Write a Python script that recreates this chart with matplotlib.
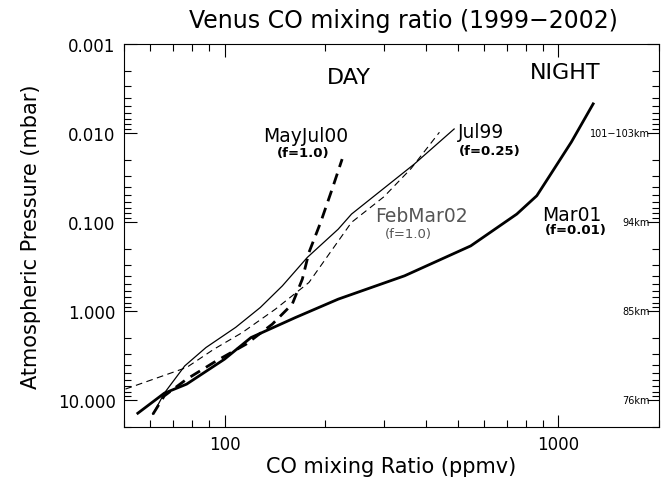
import numpy as np
import matplotlib
matplotlib.use('Agg')
import matplotlib.pyplot as plt
from matplotlib.ticker import FixedLocator, NullFormatter, LogLocator
import matplotlib.transforms as mtransforms

# CO mixing ratio (ppmv) vs pressure (mbar)
mar01_co = [55, 66, 77, 100, 120, 163, 219, 346, 546, 750, 861, 940, 1093, 1270]
mar01_p = [14.0, 8.35, 6.6, 3.46, 1.98, 1.18, 0.733, 0.401, 0.185, 0.0813, 0.0506, 0.0304, 0.0126, 0.0047]

jul99_co = [61, 66, 76, 88, 108, 128, 149, 177, 219, 240, 370, 487]
jul99_p = [14.4, 8.35, 4.12, 2.56, 1.52, 0.909, 0.52, 0.249, 0.12, 0.0813, 0.0223, 0.009]

febmar02_co = [50.5, 77, 93, 113, 142, 179, 240, 300, 362, 440]
febmar02_p = [7.5, 4.29, 2.67, 1.74, 0.95, 0.476, 0.1007, 0.052, 0.025, 0.0098]

mayjul00_co = [61, 66, 77, 94.5, 116, 139, 159.5, 171, 179, 194, 210, 225]
mayjul00_p = [14.4, 8.95, 5.81, 3.62, 2.35, 1.40, 0.834, 0.437, 0.219, 0.1007, 0.0426, 0.0196]

p_ticks = [0.001, 0.01, 0.1, 1, 10]
p_labels = ['0.001', '0.010', '0.100', '1.000', '10.000']
alt_ticks = [0.01, 0.1, 1, 10]
alt_labels = ['101\u2212103km', '94km', '85km', '76km']

fig = plt.figure(figsize=(6.62, 4.85), dpi=100)
ax = fig.add_axes([0.1873, 0.1175, 0.8082, 0.7897])

ax.plot(mar01_co, mar01_p, color='black', lw=2.0)
ax.plot(jul99_co, jul99_p, color='black', lw=0.9)
ax.plot(febmar02_co, febmar02_p, color='black', lw=0.8, dashes=(6, 4))
ax.plot(mayjul00_co, mayjul00_p, color='black', lw=2.0, dashes=(4, 2.5))

ax.set_xscale('log')
ax.set_yscale('log')
ax.set_xlim(50, 2000)
ax.set_ylim(20, 0.001)

ax.set_xticks([100, 1000])
ax.set_xticklabels(['100', '1000'])
ax.xaxis.set_minor_locator(LogLocator(base=10, subs=np.arange(2, 10)))
ax.xaxis.set_minor_formatter(NullFormatter())
ax.yaxis.set_major_locator(FixedLocator(p_ticks))
ax.set_yticklabels(p_labels)
ax.yaxis.set_minor_locator(LogLocator(base=10, subs=np.arange(2, 10)))
ax.yaxis.set_minor_formatter(NullFormatter())

ax.tick_params(which='both', direction='in', top=True, right=True, labelsize=12, width=0.8)
ax.tick_params(which='major', length=9, pad=6)
ax.tick_params(which='minor', length=5)
for s in ax.spines.values():
    s.set_linewidth(0.8)

# altitude labels inside right edge
trans = mtransforms.blended_transform_factory(ax.transAxes, ax.transData)
for p, lab in zip(alt_ticks, alt_labels):
    ax.text(0.983, p, lab, transform=trans, ha='right', va='center', fontsize=7)

ax.set_xlabel('CO mixing Ratio (ppmv)', fontsize=15, labelpad=2)
ax.set_ylabel('Atmospheric Pressure (mbar)', fontsize=15, labelpad=12)
fig.text(0.609, 0.957, 'Venus CO mixing ratio (1999\u22122002)', ha='center', va='center', fontsize=17)

ax.text(0.4206, 0.9138, 'DAY', transform=ax.transAxes, ha='center', va='center', fontsize=16)
ax.text(0.824, 0.927, 'NIGHT', transform=ax.transAxes, ha='center', va='center', fontsize=16)

ax.text(0.340, 0.760, 'MayJul00', transform=ax.transAxes, ha='center', va='center', fontsize=13.5)
ax.text(0.335, 0.716, '(f=1.0)', transform=ax.transAxes, ha='center', va='center', fontsize=9.5, fontweight='bold')
ax.text(0.624, 0.772, 'Jul99', transform=ax.transAxes, ha='left', va='center', fontsize=13.5)
ax.text(0.626, 0.721, '(f=0.25)', transform=ax.transAxes, ha='left', va='center', fontsize=9.5, fontweight='bold')
ax.text(0.469, 0.553, 'FebMar02', transform=ax.transAxes, ha='left', va='center', fontsize=13.5, color='#555555')
ax.text(0.488, 0.505, '(f=1.0)', transform=ax.transAxes, ha='left', va='center', fontsize=9.5, color='#555555')
ax.text(0.893, 0.555, 'Mar01', transform=ax.transAxes, ha='right', va='center', fontsize=13.5)
ax.text(0.902, 0.515, '(f=0.01)', transform=ax.transAxes, ha='right', va='center', fontsize=9.5, fontweight='bold')

fig.savefig('out.png', dpi=100)
